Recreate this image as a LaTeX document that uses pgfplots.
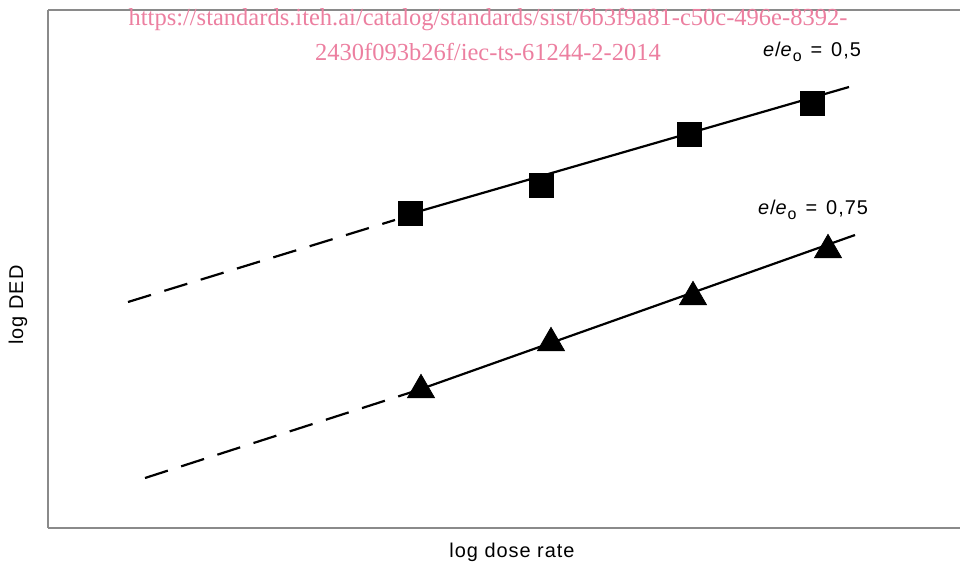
\documentclass[border=0pt]{standalone}
\usepackage{pgfplots}
\pgfplotsset{compat=1.18}
\usepackage{fontspec}
\setmainfont{Liberation Sans}
\newfontfamily\wmfont{Liberation Serif}
\newfontfamily\lblfont[LetterSpace=5]{Liberation Sans}
\definecolor{wmpink}{HTML}{EC7FA0}
\definecolor{axgray}{HTML}{8A8A8A}
\newcommand{\eeo}{\textit{e}/\textit{e}\raisebox{-2.2bp}{\fontsize{8}{9}\selectfont o}}
\begin{document}
\begin{tikzpicture}
\useasboundingbox (-24bp,-18bp) rectangle (456bp,264bp);
\begin{axis}[
  scale only axis,
  width=456bp, height=259bp,
  xmin=48, xmax=960, ymin=36, ymax=554,
  axis x line=box, axis y line=left,
  axis line style={-, draw=axgray, line width=1bp},
  xtick=\empty, ytick=\empty,
  clip=false,
]
% watermark
\node[font=\wmfont\fontsize{12.3}{17.5}\selectfont, text=wmpink, align=center, anchor=north, inner sep=0pt] at (axis cs:488,556)
  {https://standards.iteh.ai/catalog/standards/sist/6b3f9a81-c50c-496e-8392-\\2430f093b26f/iec-ts-61244-2-2014};
% upper series e/e0 = 0.5
\addplot[black, line width=1.1bp, dash pattern=on 12bp off 7bp] coordinates {(128,262) (395,344)};
\addplot[black, line width=1.1bp] coordinates {(410,350) (849,477)};
\addplot[only marks, mark=square*, mark size=6bp, mark options={fill=black, draw=black}] coordinates {
  (410,351) (541,379) (689,430) (812,461)};
% lower series e/e0 = 0.75
\addplot[black, line width=1.1bp, dash pattern=on 12bp off 7bp] coordinates {(145,86) (412,172)};
\addplot[black, line width=1.1bp] coordinates {(421,175) (855,329)};
\addplot[only marks, mark=triangle*, mark size=7.8bp, mark options={fill=black, draw=black}] coordinates {
  (421,174) (551,221) (693,267) (828,314)};
% labels
\node[font=\lblfont\fontsize{10}{12}\selectfont] at (axis cs:812,512) {\eeo\hspace{4.5bp}=\hspace{4.5bp}0,5};
\node[font=\lblfont\fontsize{10}{12}\selectfont] at (axis cs:813,354) {\eeo\hspace{4.5bp}=\hspace{4.5bp}0,75};
\node[font=\lblfont\fontsize{10}{12}\selectfont] at (axis cs:512,12) {log dose rate};
\node[font=\lblfont\fontsize{10}{12}\selectfont, rotate=90] at (axis cs:18,259) {log DED};
\end{axis}
\end{tikzpicture}
\end{document}
